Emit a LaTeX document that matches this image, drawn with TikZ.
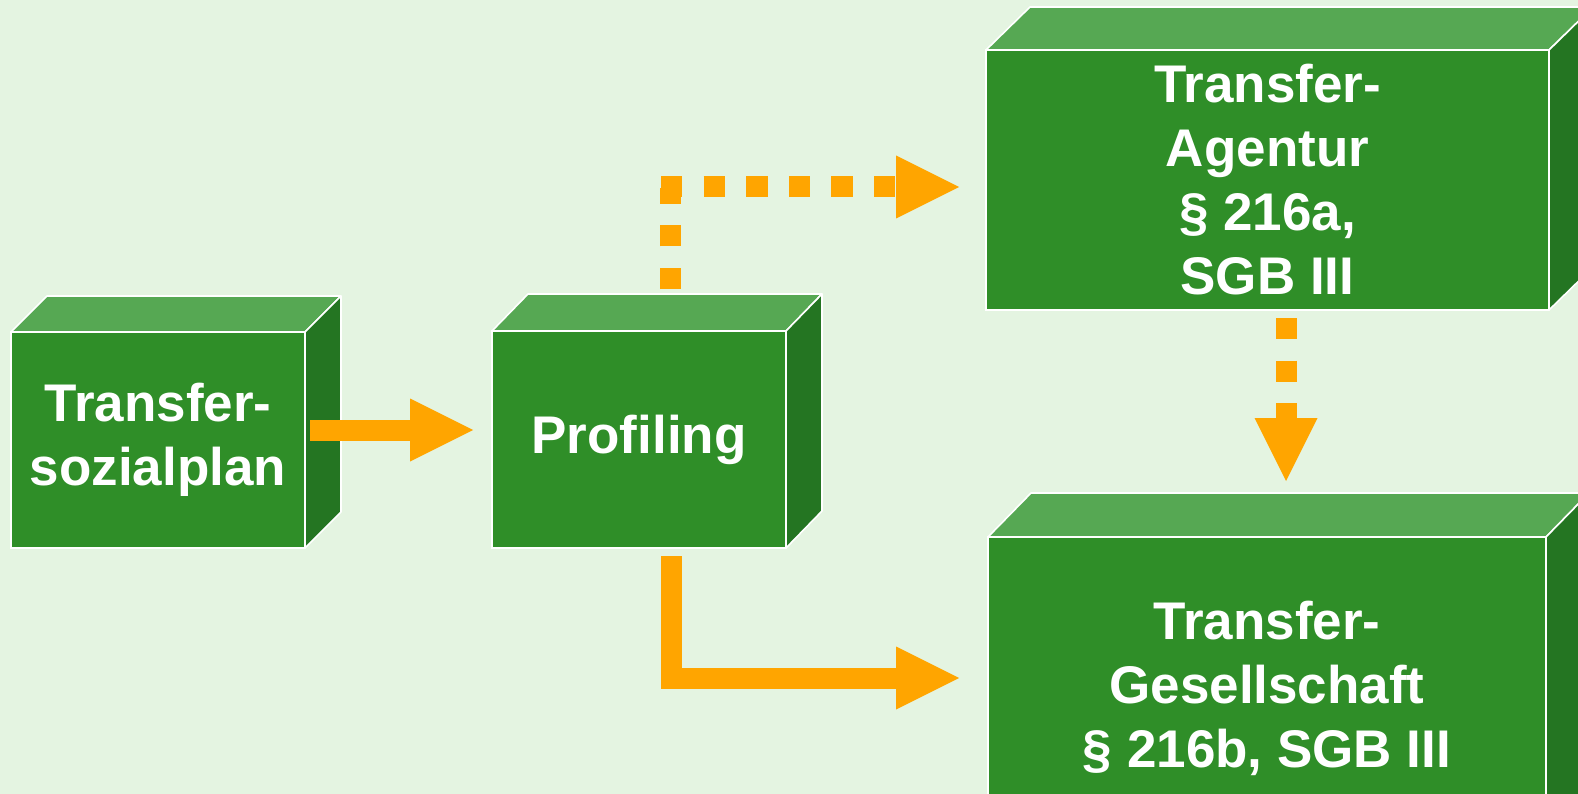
\documentclass[tikz,border=0pt]{standalone}
\usepackage{fontspec}
\setmainfont{Liberation Sans}
\usetikzlibrary{arrows.meta,calc}
\definecolor{bgc}{HTML}{E4F4E1}
\definecolor{frontg}{HTML}{2F8E28}
\definecolor{topg}{HTML}{56A853}
\definecolor{sideg}{HTML}{247522}
\definecolor{arrowc}{HTML}{FFA500}
\tikzset{
  face/.style={draw=white, line width=1.6pt, fill=frontg, text=white, align=center,
    inner sep=0pt, outer sep=0pt, font=\fontsize{53}{64}\selectfont\bfseries},
  topface/.style={draw=white, line width=1.6pt, fill=topg, line join=round},
  sideface/.style={draw=white, line width=1.6pt, fill=sideg, line join=round},
  flowline/.style={draw=arrowc, line width=21pt},
  flow/.style={flowline, -{Triangle[length=63pt 0 0, width=63pt 0 0, line width=0pt 0 0]}},
  dotflow/.style={dash pattern=on 21.3pt off 21.3pt}
}
\newcommand\boxdepth[3]{%
  \filldraw[topface] (#1.north west) -- ++(#2,-#3) -- ($(#1.north east)+(#2,-#3)$) -- (#1.north east) -- cycle;
  \filldraw[sideface] (#1.north east) -- ++(#2,-#3) -- ($(#1.south east)+(#2,-#3)$) -- (#1.south east) -- cycle;
}
\begin{document}
\begin{tikzpicture}[x=1pt,y=-1pt]
\useasboundingbox (0,0) rectangle (1578,794);
\clip (0,0) rectangle (1578,794);
\fill[bgc] (0,0) rectangle (1578,794);

\node[face, minimum width=294pt, minimum height=216pt] (s1) at (158,440) {Transfer-\\sozialplan};
\boxdepth{s1}{36}{36}
\node[face, minimum width=294pt, minimum height=217pt] (prof) at (639,439.5) {Profiling};
\boxdepth{prof}{36}{37}
\node[face, minimum width=563pt, minimum height=260pt] (ag) at (1267.5,180) {Transfer-\\Agentur\\§ 216a,\\SGB III};
\boxdepth{ag}{44}{43}
\node[face, minimum width=558pt, minimum height=302pt] (gs) at (1267,688) {Transfer-\\Gesellschaft\\§ 216b, SGB III};
\boxdepth{gs}{43}{44}

% Transfersozialplan -> Profiling
\coordinate (a1s) at ($(s1.east)+(5,-10)$);
\coordinate (a1e) at ($(prof.west)+(-19,-9.5)$);
\draw[flow] (a1s) -- (a1e);

% Profiling -> Transfer-Agentur (dotted)
\coordinate (d1s) at ($(prof.north)+(31,-42)$);
\coordinate (d1c) at ($(d1s)+(0,-101)$);
\draw[flowline, dotflow] (d1s) -- (d1c);
\coordinate (d2s) at ($(d1c)+(-9,-1)$);
\coordinate (d2e) at ($(ag.west)+(-27,7)$);
\draw[flow, dotflow] (d2s) -- (d2e);

% Transfer-Agentur -> Transfer-Gesellschaft (dotted)
\coordinate (d3s) at ($(ag.south)+(18.5,8)$);
\coordinate (d3e) at ($(gs.north)+(19,-56)$);
\draw[flow, dotflow] (d3s) -- (d3e);

% Profiling -> Transfer-Gesellschaft
\coordinate (ls) at ($(prof.south)+(32,8)$);
\coordinate (le) at ($(gs.west)+(-29,-10)$);
\draw[flow] (ls) |- (le);
\end{tikzpicture}
\end{document}
